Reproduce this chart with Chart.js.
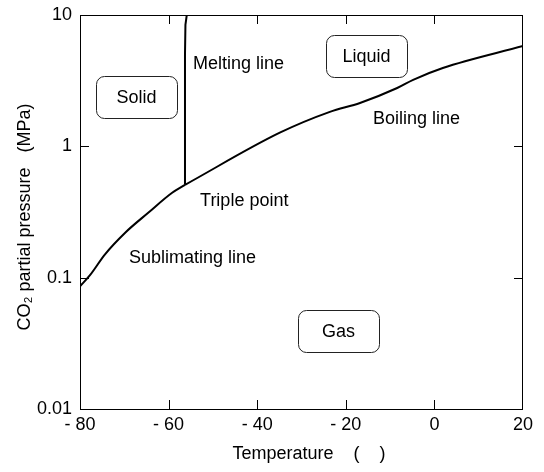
<!DOCTYPE html>
<html>
<head>
<meta charset="utf-8">
<script src="https://cdn.jsdelivr.net/npm/chart.js@4/dist/chart.umd.min.js"></script>
<style>
  body { margin: 0; background: #fff; }
  canvas { display: block; }
</style>
</head>
<body>
<canvas id="phase" width="544" height="472"></canvas>
<script>
// CO2 phase diagram
const sublT = [-80, -77.7, -74.4, -69.8, -64.6, -59.2, -56.3];
const sublP = [0.086, 0.105, 0.150, 0.220, 0.312, 0.443, 0.509];
const boilT = [-56.3, -34.9, -23.6, -16.8, -8.4, -4.8, 1.9, 20];
const boilP = [0.509, 1.27, 1.83, 2.14, 2.78, 3.21, 3.95, 5.81];
const meltT = [-56.3, -56.3, -56.2, -55.9];
const meltP = [0.509, 5, 8.4, 10];

const xTicks = [-80, -60, -40, -20, 0, 20];
const xTickLabels = ["- 80", "- 60", "- 40", "- 20", "0", "20"];
const yTicks = [0.01, 0.1, 1, 10];
const yTickLabels = ["0.01", "0.1", "1", "10"];

// region names in boxes, and the line names
const boxNames = ["Solid", "Liquid", "Gas"];
const boxT = [-67.25, -15.33, -21.65];
const boxP = [2.36, 4.88, 0.0395];
const lineNames = ["Melting line", "Triple point", "Sublimating line", "Boiling line"];
const lineNameT = [-54.5, -52.9, -68.94, -13.86];
const lineNameP = [4.31, 0.392, 0.1445, 1.65];

const pts = (xs, ys) => xs.map((x, i) => ({ x: x, y: ys[i] }));

Chart.defaults.font.family = "'Liberation Sans', Arial, sans-serif";
Chart.defaults.font.size = 18;
Chart.defaults.color = "#000";

function roundBox(ctx, x, y, w, h, r) {
  ctx.beginPath();
  ctx.moveTo(x + r, y);
  ctx.lineTo(x + w - r, y);
  ctx.arcTo(x + w, y, x + w, y + r, r);
  ctx.lineTo(x + w, y + h - r);
  ctx.arcTo(x + w, y + h, x + w - r, y + h, r);
  ctx.lineTo(x + r, y + h);
  ctx.arcTo(x, y + h, x, y + h - r, r);
  ctx.lineTo(x, y + r);
  ctx.arcTo(x, y, x + r, y, r);
  ctx.closePath();
  ctx.stroke();
}

const framePlugin = {
  id: "frame",
  afterDatasetsDraw(chart) {
    const { ctx, chartArea: a, scales: { x, y } } = chart;
    ctx.save();
    ctx.strokeStyle = "#000";
    ctx.lineWidth = 1;
    ctx.strokeRect(a.left + 0.5, a.top + 0.5, a.right - a.left - 1, a.bottom - a.top);
    const len = 9;
    ctx.beginPath();
    x.ticks.forEach(t => {
      if (t.value <= x.min || t.value >= x.max) return;
      const px = Math.round(x.getPixelForValue(t.value)) + 0.5;
      ctx.moveTo(px, a.bottom); ctx.lineTo(px, a.bottom - len);
      ctx.moveTo(px, a.top); ctx.lineTo(px, a.top + len);
    });
    y.ticks.forEach(t => {
      if (t.value <= y.min || t.value >= y.max) return;
      const py = Math.round(y.getPixelForValue(t.value)) + 0.5;
      ctx.moveTo(a.left, py); ctx.lineTo(a.left + len, py);
      ctx.moveTo(a.right, py); ctx.lineTo(a.right - len, py);
    });
    ctx.stroke();

    ctx.font = "18px 'Liberation Sans', Arial, sans-serif";
    ctx.fillStyle = "#000";
    ctx.textBaseline = "middle";
    ctx.textAlign = "center";
    ctx.strokeStyle = "#222";
    boxNames.forEach((name, i) => {
      const cx = x.getPixelForValue(boxT[i]);
      const cy = y.getPixelForValue(boxP[i]);
      roundBox(ctx, Math.round(cx - 40.5) + 0.5, Math.round(cy - 21) + 0.5, 81, 42, 8);
      ctx.fillText(name, cx, cy + 1);
    });
    ctx.textAlign = "left";
    lineNames.forEach((name, i) => {
      ctx.fillText(name, x.getPixelForValue(lineNameT[i]), y.getPixelForValue(lineNameP[i]) + 1);
    });
    ctx.restore();
  }
};

const lineStyle = {
  showLine: true,
  borderColor: "#000",
  borderWidth: 2,
  pointRadius: 0,
  cubicInterpolationMode: "monotone",
  fill: false
};

new Chart(document.getElementById("phase").getContext("2d"), {
  type: "scatter",
  data: {
    datasets: [
      Object.assign({ label: "Sublimating line", data: pts(sublT, sublP) }, lineStyle),
      Object.assign({ label: "Boiling line", data: pts(boilT, boilP) }, lineStyle),
      Object.assign({ label: "Melting line", data: pts(meltT, meltP) }, lineStyle, { cubicInterpolationMode: "default", tension: 0 })
    ]
  },
  options: {
    responsive: false,
    animation: false,
    layout: { padding: { top: 15, right: 21, left: 0, bottom: 0 } },
    plugins: { legend: { display: false }, tooltip: { enabled: false } },
    scales: {
      x: {
        type: "linear",
        min: -80,
        max: 20,
        afterBuildTicks: s => { s.ticks = xTicks.map(v => ({ value: v })); },
        afterFit: s => { s.height = 63; s.paddingLeft = 0; s.paddingRight = 0; },
        ticks: {
          padding: 5,
          maxRotation: 0,
          callback: v => xTickLabels[xTicks.indexOf(v)]
        },
        grid: { display: false, drawTicks: false },
        border: { display: false },
        title: {
          display: true,
          text: "   Temperature    (    )",
          padding: { top: 0, bottom: 7 }
        }
      },
      y: {
        type: "logarithmic",
        min: 0.01,
        max: 10,
        afterBuildTicks: s => { s.ticks = yTicks.map(v => ({ value: v })); },
        afterFit: s => { s.width = 80; s.paddingTop = 0; s.paddingBottom = 0; },
        ticks: {
          padding: 8,
          callback: v => yTickLabels[yTicks.indexOf(v)]
        },
        grid: { display: false, drawTicks: false },
        border: { display: false },
        title: {
          display: true,
          text: "CO\u2082 partial pressure   (MPa)  ",
          padding: { top: 14, bottom: 0 }
        }
      }
    }
  },
  plugins: [framePlugin]
});
</script>
</body>
</html>
